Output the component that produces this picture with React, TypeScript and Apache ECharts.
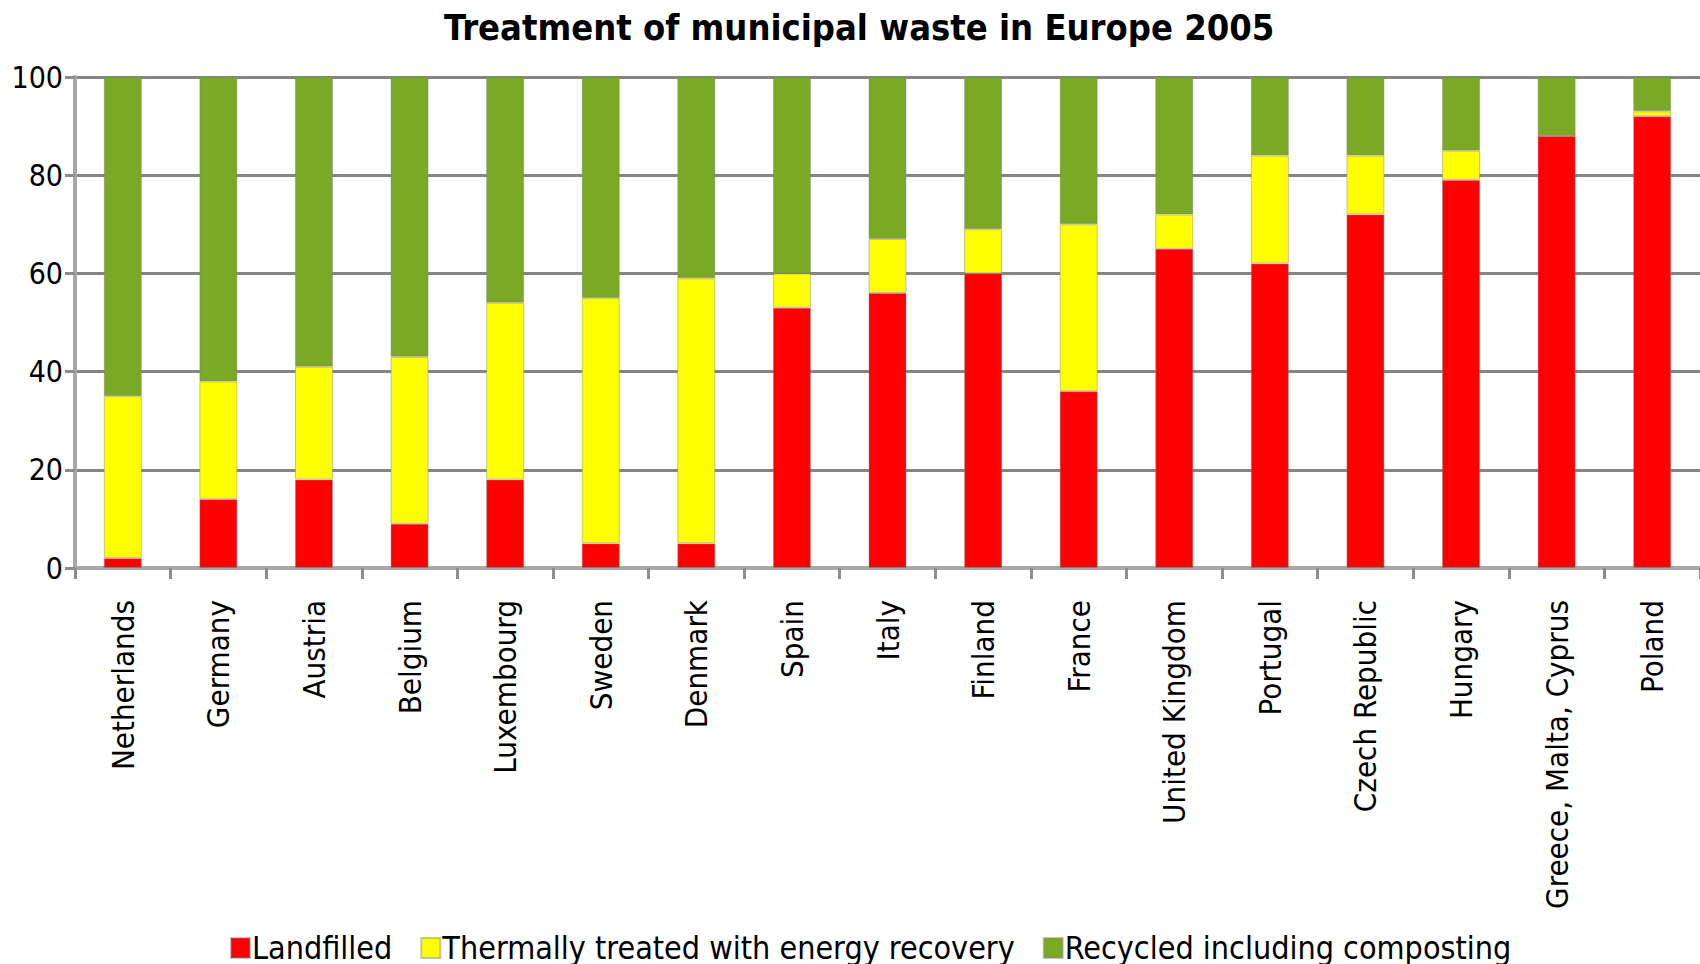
import React, { useEffect, useRef } from "react";
import * as echarts from "echarts";

const TITLE = "Treatment of municipal waste in Europe 2005";
const countries = [
  "Netherlands", "Germany", "Austria", "Belgium", "Luxembourg", "Sweden", "Denmark",
  "Spain", "Italy", "Finland", "France", "United Kingdom", "Portugal", "Czech Republic",
  "Hungary", "Greece, Malta, Cyprus", "Poland",
];
const landfilled = [2, 14, 18, 9, 18, 5, 5, 53, 56, 60, 36, 65, 62, 72, 79, 88, 92];
const thermal = [33, 24, 23, 34, 36, 50, 54, 7, 11, 9, 34, 7, 22, 12, 6, 0, 1];
const recycled = [65, 62, 59, 57, 46, 45, 41, 40, 33, 31, 30, 28, 16, 16, 15, 12, 7];
const seriesNames = [
  "Landfilled",
  "Thermally treated with energy recovery",
  "Recycled including composting",
];
const yTicks = { min: 0, max: 100, interval: 20 };

const FONT = '"DejaVu Sans Condensed", "DejaVu Sans", sans-serif';

export default function App() {
  const ref = useRef<HTMLDivElement>(null);
  useEffect(() => {
    if (!ref.current) return;
    const chart = echarts.init(ref.current, undefined, { renderer: "svg" });
    const colors = ["#FF0000", "#FFFF00", "#7AAA24"];
    const dataSets = [landfilled, thermal, recycled];
    chart.setOption({
      animation: false,
      backgroundColor: "#ffffff",
      title: {
        text: TITLE,
        left: 444,
        top: 9,
        padding: 0,
        textStyle: { fontFamily: FONT, fontWeight: "bold", fontSize: 36, color: "#000" },
      },
      legend: {
        data: seriesNames,
        left: 230,
        top: 932,
        padding: 0,
        itemWidth: 19,
        itemHeight: 20,
        itemGap: 28,
        icon: "rect",
        textStyle: { fontFamily: FONT, fontSize: 32, color: "#000", padding: [0, 0, 0, -3] },
      },
      grid: { left: 75, right: -8, top: 77, bottom: 396, containLabel: false },
      xAxis: {
        type: "category",
        data: countries,
        axisLine: { lineStyle: { color: "#a8a8a8", width: 4 } },
        axisTick: { show: true, length: 11, lineStyle: { color: "#8c8c8c", width: 3 } },
        axisLabel: {
          rotate: 90,
          margin: 32,
          interval: 0,
          fontFamily: FONT,
          fontSize: 31,
          color: "#000",
        },
        splitLine: { show: false },
      },
      yAxis: {
        type: "value",
        min: yTicks.min,
        max: yTicks.max,
        interval: yTicks.interval,
        axisLine: { show: true, lineStyle: { color: "#a8a8a8", width: 4 } },
        axisTick: { show: true, length: 10, lineStyle: { color: "#8c8c8c", width: 3 } },
        axisLabel: { margin: 12, fontFamily: FONT, fontSize: 30, color: "#000" },
        splitLine: { show: true, lineStyle: { color: "#858585", width: 3 } },
      },
      series: seriesNames.map((name, i) => ({
        name,
        type: "bar",
        stack: "total",
        barWidth: 38,
        data: dataSets[i],
        itemStyle: {
          color: colors[i],
          borderColor: "rgba(128,128,128,0.45)",
          borderWidth: 1,
        },
      })),
    });
    return () => chart.dispose();
  }, []);
  return (
    <div
      ref={ref}
      style={{ position: "fixed", left: 0, top: 0, width: 1700, height: 964, background: "#fff" }}
    />
  );
}
